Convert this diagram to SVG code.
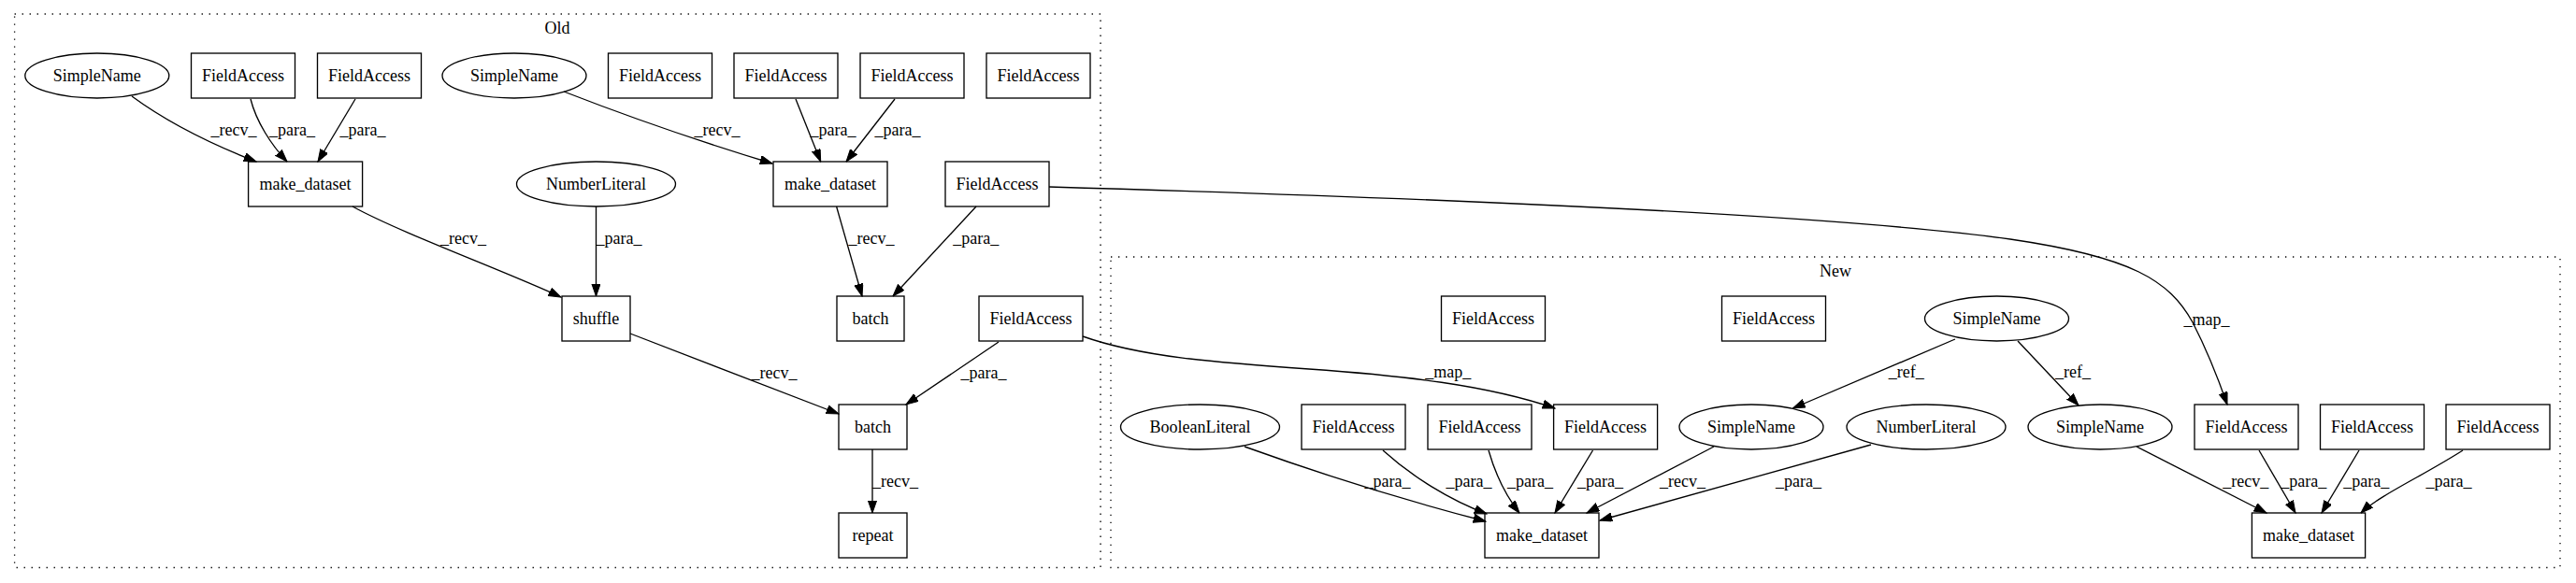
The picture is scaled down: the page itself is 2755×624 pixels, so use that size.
<svg xmlns="http://www.w3.org/2000/svg" width="2755" height="624" viewBox="0 0 2755 624">
<style>
.n rect, .n ellipse { fill: none; stroke: #000; stroke-width: 1.33; }
text { font-family: "Liberation Serif", "Times New Roman", serif; font-size: 18px; fill: #000; }
.n text, .cl text { text-anchor: middle; }
.e path { fill: none; stroke: #000; stroke-width: 1.33; marker-end: url(#ah); }
.e text { text-anchor: middle; }
.cl rect { fill: none; stroke: #000; stroke-width: 1.33; stroke-dasharray: 1.33 6.67; }
</style>
<defs>
<marker id="ah" markerUnits="userSpaceOnUse" markerWidth="14" markerHeight="10" viewBox="0 0 14 10" refX="13.3" refY="4.67" orient="auto">
<polygon points="0,0 13.3,4.67 0,9.33" fill="#000" stroke="#000" stroke-width="1"/>
</marker>
</defs>
<rect x="0" y="0" width="2755" height="624" fill="#fff"/>
<g id="cluster_old" class="cl">
<rect x="15.6" y="15" width="1161.4" height="592.5"/>
<text x="596" y="36">Old</text>
</g>
<g id="cluster_new" class="cl">
<rect x="1188" y="275" width="1550" height="332.5"/>
<text x="1963" y="296">New</text>
</g>

<g id="o_sn1" class="n"><ellipse cx="103.8" cy="81" rx="77" ry="24"/><text x="103.8" y="87">SimpleName</text></g>
<g id="o_fa1" class="n"><rect x="204.5" y="57" width="111" height="48"/><text x="260" y="87">FieldAccess</text></g>
<g id="o_fa2" class="n"><rect x="339.5" y="57" width="111" height="48"/><text x="395" y="87">FieldAccess</text></g>
<g id="o_sn2" class="n"><ellipse cx="550" cy="81" rx="77" ry="24"/><text x="550" y="87">SimpleName</text></g>
<g id="o_fa3" class="n"><rect x="650.5" y="57" width="111" height="48"/><text x="706" y="87">FieldAccess</text></g>
<g id="o_fa4" class="n"><rect x="785" y="57" width="111" height="48"/><text x="840.5" y="87">FieldAccess</text></g>
<g id="o_fa5" class="n"><rect x="920" y="57" width="111" height="48"/><text x="975.5" y="87">FieldAccess</text></g>
<g id="o_fa6" class="n"><rect x="1055" y="57" width="111" height="48"/><text x="1110.5" y="87">FieldAccess</text></g>
<g id="o_md1" class="n"><rect x="265.6" y="173" width="122" height="48"/><text x="326.6" y="203">make_dataset</text></g>
<g id="o_nl" class="n"><ellipse cx="637.5" cy="197" rx="85" ry="24"/><text x="637.5" y="203">NumberLiteral</text></g>
<g id="o_md2" class="n"><rect x="827" y="173" width="122" height="48"/><text x="888" y="203">make_dataset</text></g>
<g id="o_fa7" class="n"><rect x="1011" y="173" width="111" height="48"/><text x="1066.5" y="203">FieldAccess</text></g>
<g id="o_shuffle" class="n"><rect x="601" y="317" width="73" height="48"/><text x="637.5" y="347">shuffle</text></g>
<g id="o_batch1" class="n"><rect x="895" y="317" width="72" height="48"/><text x="931" y="347">batch</text></g>
<g id="o_fa8" class="n"><rect x="1047" y="317" width="111" height="48"/><text x="1102.5" y="347">FieldAccess</text></g>
<g id="o_batch2" class="n"><rect x="897" y="433" width="73" height="48"/><text x="933.5" y="463">batch</text></g>
<g id="o_repeat" class="n"><rect x="897" y="549" width="73" height="48"/><text x="933.5" y="579">repeat</text></g>

<g id="n_fa_a" class="n"><rect x="1541.5" y="317" width="111" height="48"/><text x="1597" y="347">FieldAccess</text></g>
<g id="n_fa_b" class="n"><rect x="1841.5" y="317" width="111" height="48"/><text x="1897" y="347">FieldAccess</text></g>
<g id="n_sn_top" class="n"><ellipse cx="2135.5" cy="341" rx="77" ry="24"/><text x="2135.5" y="347">SimpleName</text></g>
<g id="n_bl" class="n"><ellipse cx="1283.5" cy="457" rx="85" ry="24"/><text x="1283.5" y="463">BooleanLiteral</text></g>
<g id="n_fa1" class="n"><rect x="1392" y="433" width="111" height="48"/><text x="1447.5" y="463">FieldAccess</text></g>
<g id="n_fa2" class="n"><rect x="1527" y="433" width="111" height="48"/><text x="1582.5" y="463">FieldAccess</text></g>
<g id="n_fa3" class="n"><rect x="1661.6" y="433" width="111" height="48"/><text x="1717.1" y="463">FieldAccess</text></g>
<g id="n_sn_a" class="n"><ellipse cx="1873" cy="457" rx="77" ry="24"/><text x="1873" y="463">SimpleName</text></g>
<g id="n_nl" class="n"><ellipse cx="2060" cy="457" rx="85" ry="24"/><text x="2060" y="463">NumberLiteral</text></g>
<g id="n_sn_b" class="n"><ellipse cx="2246" cy="457" rx="77" ry="24"/><text x="2246" y="463">SimpleName</text></g>
<g id="n_fa4" class="n"><rect x="2347" y="433" width="111" height="48"/><text x="2402.5" y="463">FieldAccess</text></g>
<g id="n_fa5" class="n"><rect x="2481.5" y="433" width="111" height="48"/><text x="2537" y="463">FieldAccess</text></g>
<g id="n_fa6" class="n"><rect x="2616" y="433" width="111" height="48"/><text x="2671.5" y="463">FieldAccess</text></g>
<g id="n_md1" class="n"><rect x="1588" y="549" width="122" height="48"/><text x="1649" y="579">make_dataset</text></g>
<g id="n_md2" class="n"><rect x="2408.4" y="549" width="121.2" height="48"/><text x="2469" y="579">make_dataset</text></g>

<g id="edges" class="e">
<path d="M141,103 C175,128 220,152 274,173"/><text x="250" y="145">_recv_</text>
<path d="M268,106 C274,130 290,155 307,173"/><text x="312.5" y="145">_para_</text>
<path d="M380,106 L340,173"/><text x="388" y="145">_para_</text>
<path d="M377,221 C430,250 540,290 600,318"/><text x="495.5" y="261">_recv_</text>
<path d="M637.5,221 L637.5,317"/><text x="662" y="261">_para_</text>
<path d="M603,98 C680,128 760,155 826,175"/><text x="767" y="145">_recv_</text>
<path d="M851,106 L877.7,173"/><text x="891" y="145">_para_</text>
<path d="M957,106 L905,173"/><text x="960" y="145">_para_</text>
<path d="M894.6,221 L922,317"/><text x="932" y="261">_recv_</text>
<path d="M1044,221 L955,317"/><text x="1043.7" y="261">_para_</text>
<path d="M674,357 L897,443"/><text x="828" y="405">_recv_</text>
<path d="M1068,366 L969,433"/><text x="1052" y="405">_para_</text>
<path d="M933,481 L933,549"/><text x="957.6" y="521">_recv_</text>
<path d="M1158,360 C1220,382 1300,388 1400,395 C1500,402 1590,412 1663,437"/><text x="1548.7" y="404">_map_</text>
<path d="M1122,200 C1500,211 1950,228 2150,256 C2280,275 2320,300 2345,345 C2362,378 2374,410 2382,433"/><text x="2360" y="348">_map_</text>
<path d="M2091,363 L1917.5,437"/><text x="2038.7" y="404">_ref_</text>
<path d="M2158,365 L2223,434"/><text x="2217" y="404">_ref_</text>
<path d="M1331,478 C1420,510 1500,535 1589,558"/><text x="1484" y="521">_para_</text>
<path d="M1479,482 C1510,510 1550,535 1590,550"/><text x="1571" y="521">_para_</text>
<path d="M1592,482 C1600,510 1610,530 1625,549"/><text x="1636.6" y="521">_para_</text>
<path d="M1703.5,482 L1663,549"/><text x="1711.6" y="521">_para_</text>
<path d="M1833,478 L1697,549"/><text x="1799.5" y="521">_recv_</text>
<path d="M2001,476 L1711,557"/><text x="1923.6" y="521">_para_</text>
<path d="M2285,478 L2424,549"/><text x="2401.7" y="521">_recv_</text>
<path d="M2416,482 L2455,549"/><text x="2463.8" y="521">_para_</text>
<path d="M2523,482 L2483,549"/><text x="2530.8" y="521">_para_</text>
<path d="M2634,482 C2590,510 2545,530 2525,549"/><text x="2619" y="521">_para_</text>
</g>
</svg>
